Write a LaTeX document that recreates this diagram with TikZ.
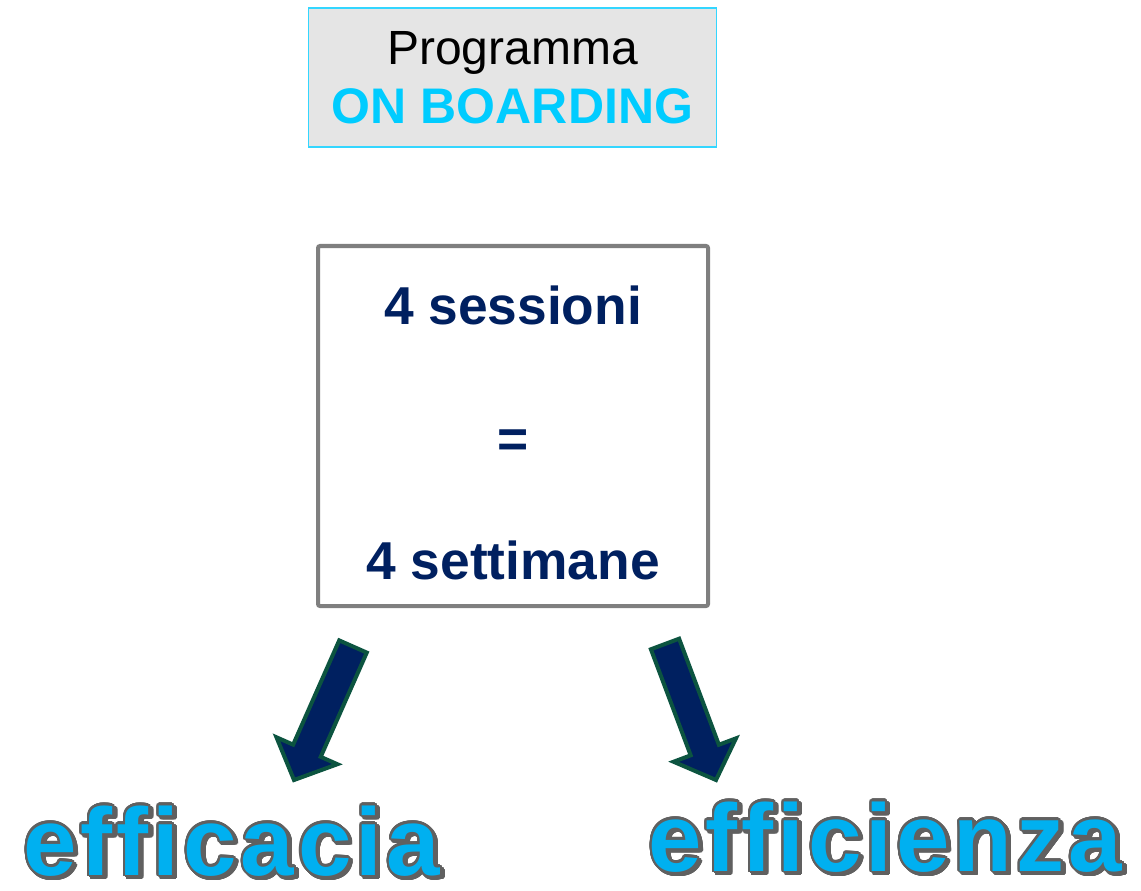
\documentclass[tikz,border=0pt]{standalone}
\usepackage{fontspec}
\setmainfont{Liberation Sans}
\newfontfamily\grande[Ligatures=CommonOff,LetterSpace=4.2]{Liberation Sans}
\usepackage{contour}
\contourlength{1.6pt}
\contournumber{32}
\usetikzlibrary{calc}
\definecolor{azzurro}{HTML}{00CCFF}
\definecolor{celeste}{HTML}{00B0F0}
\definecolor{blunotte}{HTML}{002060}
\definecolor{verdescuro}{RGB}{12,84,64}
\definecolor{grigiobordo}{HTML}{7F7F7F}
\definecolor{grigioombra}{HTML}{606060}
\tikzset{
titolo/.style={draw=azzurro!80!white,line width=1.2pt,fill=black!10,minimum width=306pt,minimum height=104pt,align=center,inner sep=0pt,font=\fontsize{36}{44}\selectfont},
riquadro/.style={draw=grigiobordo,line width=3pt,rounded corners=1.5pt,fill=white,minimum width=292.5pt,minimum height=270pt,align=center,inner sep=0pt,text=blunotte,font=\bfseries\fontsize{40}{95.6}\selectfont},
freccia/.style={fill=blunotte,draw=verdescuro,line width=3pt,line join=miter},
parola/.style={anchor=base west,inner sep=0pt,font=\grande\bfseries\fontsize{72}{86}\selectfont}}
\newcommand{\freccione}[2]{%
\coordinate (#1#2) at ($(#2)!24pt!(#1)$);
\draw[freccia] ($(#1)!11.3pt!90:(#2)$) -- ($(#1#2)!11.3pt!90:(#2)$) -- ($(#1#2)!25pt!90:(#2)$) -- (#2)
  -- ($(#1#2)!25pt!-90:(#2)$) -- ($(#1#2)!11.3pt!-90:(#2)$) -- ($(#1)!11.3pt!-90:(#2)$) -- cycle;}
\newcommand{\ombreggiato}[1]{\rlap{\hspace{2pt}\raisebox{-2pt}{\textcolor{grigioombra}{\contour{grigioombra}{#1}}}}\textcolor{celeste}{\contour{grigioombra}{#1}}}

\begin{document}
\begin{tikzpicture}[x=0.75pt,y=-0.75pt]
\useasboundingbox (0,0) rectangle (1141,891);

\node[titolo] (programma) at (512.5,77.5) {Programma\\\textcolor{azzurro}{\fontsize{37.5}{44}\selectfont\bfseries ON BOARDING}};
\node[riquadro] (sessioni) at (513,426) {\rule{0pt}{40pt}4 sessioni\\[4pt]=\\[-4pt]4 settimane};

\coordinate (sx1) at (353,646.5);
\coordinate (sx2) at (294,780);
\coordinate (dx1) at (665,644);
\coordinate (dx2) at (716,780);
\freccione{sx1}{sx2}
\freccione{dx1}{dx2}

\node[parola] (efficacia) at (23,875) {\ombreggiato{efficacia}};
\node[parola] (efficienza) at (648,871) {\ombreggiato{efficienza}};

\end{tikzpicture}
\end{document}
